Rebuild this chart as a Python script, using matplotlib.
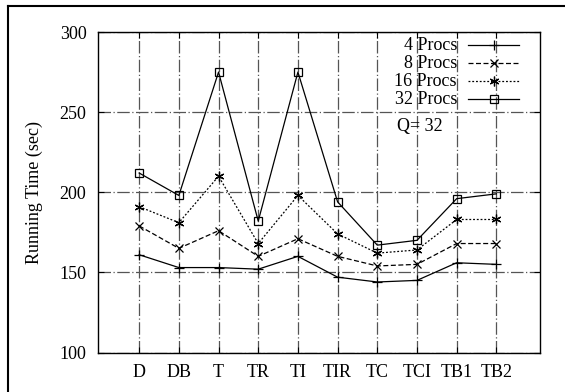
import matplotlib
matplotlib.use("Agg")
import matplotlib.pyplot as plt
from matplotlib.lines import Line2D

categories = ["D", "DB", "T", "TR", "TI", "TIR", "TC", "TCI", "TB1", "TB2"]
procs_4 = [161, 153, 153, 152, 160, 147, 144, 145, 156, 155]
procs_8 = [179, 165, 176, 160, 171, 160, 154, 155, 168, 168]
procs_16 = [191, 181, 210, 168, 198, 174, 162, 164, 183, 183]
procs_32 = [212, 198, 275, 182, 275, 194, 167, 170, 196, 199]
y_ticks = [100, 150, 200, 250, 300]

plt.rcParams["font.family"] = ["Liberation Serif", "DejaVu Serif"]

fig = plt.figure(figsize=(5.65, 3.92), dpi=100)
ax = fig.add_axes([97.5 / 565, 1 - 352.5 / 392, (540 - 97.5) / 565, (352.5 - 32) / 392])

x = list(range(len(categories)))
series = [
    ("4 Procs", procs_4, "-", "+", 7),
    ("8 Procs", procs_8, (0, (4, 2)), "x", 6),
    ("16 Procs", procs_16, (0, (1.5, 1.5)), (6, 2, 0), 7),
    ("32 Procs", procs_32, "-", "s", 6),
]
for label, vals, ls, mk, ms in series:
    ax.plot(x, vals, color="black", linestyle=ls, linewidth=0.9,
            marker=mk, markersize=ms, markerfacecolor="none",
            markeredgecolor="black", markeredgewidth=0.9)

ax.set_xlim(-1.05, 10.1)
ax.set_ylim(100, 300)
ax.set_xticks(x)
ax.set_xticklabels(categories)
ax.set_yticks(y_ticks)
ax.set_ylabel("Running Time (sec)", fontsize=13, labelpad=12)
ax.tick_params(direction="in", top=True, right=True, length=4, width=0.8,
               labelsize=13, pad=8)
ax.grid(True, color="#555555", linestyle=(0, (10, 2, 1, 2)), linewidth=0.9)
ax.set_axisbelow(True)
for sp in ax.spines.values():
    sp.set_linewidth(1.0)

# gnuplot-style key: right-aligned text, sample line on the right
row_y = [45, 63, 81, 99]
for (label, vals, ls, mk, ms), yy in zip(series, row_y):
    fy = 1 - yy / 392
    fig.text(457 / 565, fy, label, ha="right", va="center", fontsize=13)
    fig.add_artist(Line2D([468 / 565, 493.5 / 565, 519 / 565], [fy, fy, fy],
                          color="black", linestyle=ls, linewidth=0.9,
                          marker=mk, markersize=ms, markevery=[1],
                          markerfacecolor="none", markeredgecolor="black",
                          markeredgewidth=0.9))
fig.text(420 / 565, 1 - 127 / 392, "Q= 32", ha="center", va="center",
         fontsize=13)

# outer frame (top and left edges)
fig.add_artist(Line2D([8 / 565, 8 / 565], [0, 1 - 6 / 392], color="black",
                      linewidth=1.5))
fig.add_artist(Line2D([8 / 565, 1], [1 - 6 / 392, 1 - 6 / 392],
                      color="black", linewidth=1.5))

fig.savefig("out.png", dpi=100)
